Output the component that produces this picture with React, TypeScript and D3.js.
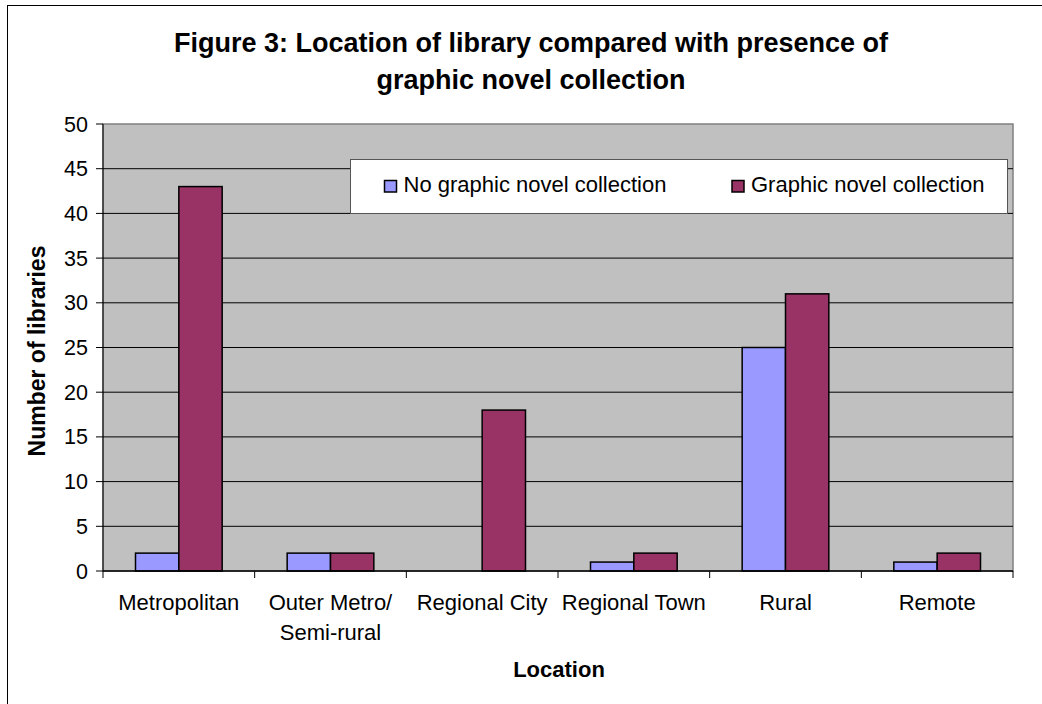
import React from "react";
import * as d3 from "d3";

const categories = ["Metropolitan", "Outer Metro/\nSemi-rural", "Regional City", "Regional Town", "Rural", "Remote"];
const seriesNames = ["No graphic novel collection", "Graphic novel collection"];
const noCollection = [2, 2, 0, 1, 25, 1];
const withCollection = [43, 2, 18, 2, 31, 2];
const yTicks = [0, 5, 10, 15, 20, 25, 30, 35, 40, 45, 50];
const colors = ["#9999FF", "#993366"];

const W = 1042;
const H = 704;
const plot = { left: 103, top: 124, right: 1013, bottom: 571 };
const font = "Arial, 'Liberation Sans', sans-serif";

export default function App() {
  const x = d3.scaleBand<string>().domain(categories).range([plot.left, plot.right]).paddingInner(0).paddingOuter(0);
  const y = d3.scaleLinear().domain([0, 50]).range([plot.bottom, plot.top]);
  const bw = x.bandwidth();
  const inner = d3.scaleBand<number>().domain([0, 1]).range([0, bw]).paddingInner(0).paddingOuter(0.75);
  const series = [noCollection, withCollection];

  return (
    <div style={{ position: "fixed", left: 0, top: 0 }}>
      <svg width={W} height={H} style={{ display: "block", fontFamily: font }}>
        <rect x={0} y={0} width={W} height={H} fill="#fff" />
        <rect x={7.5} y={5.5} width={W + 20} height={H + 20} fill="none" stroke="#000" strokeWidth={1} />
        <text x={531} y={52} textAnchor="middle" fontWeight="bold" fontSize={27} fill="#000">
          Figure 3: Location of library compared with presence of
        </text>
        <text x={531} y={89} textAnchor="middle" fontWeight="bold" fontSize={27} fill="#000">
          graphic novel collection
        </text>
        <rect x={plot.left} y={plot.top} width={plot.right - plot.left} height={plot.bottom - plot.top} fill="#C0C0C0" stroke="#808080" strokeWidth={1.5} />
        {yTicks.filter((t) => t > 0 && t < 50).map((t) => (
          <line key={"g" + t} x1={plot.left} x2={plot.right} y1={y(t)} y2={y(t)} stroke="#000" strokeWidth={1} />
        ))}
        {/* y axis */}
        <line x1={plot.left} x2={plot.left} y1={plot.top} y2={plot.bottom} stroke="#000" strokeWidth={1} />
        {yTicks.map((t) => (
          <g key={"y" + t}>
            <line x1={plot.left - 7} x2={plot.left} y1={y(t)} y2={y(t)} stroke="#000" />
            <text x={88} y={y(t) + 7.5} textAnchor="end" fontSize={21.5} fill="#000">{t}</text>
          </g>
        ))}
        {/* bars */}
        {categories.map((c, i) =>
          series.map((s, j) => {
            const v = s[i];
            if (v <= 0) return null;
            const bx = (x(c) as number) + (inner(j) as number);
            return (
              <rect key={c + j} x={bx} y={y(v)} width={inner.bandwidth()} height={y(0) - y(v)} fill={colors[j]} stroke="#000" strokeWidth={1.5} />
            );
          })
        )}
        {/* x axis */}
        <line x1={plot.left} x2={plot.right} y1={plot.bottom} y2={plot.bottom} stroke="#000" strokeWidth={1.5} />
        {categories.map((c, i) => (
          <line key={"xt" + i} x1={x(c) as number} x2={x(c) as number} y1={plot.bottom} y2={plot.bottom + 7} stroke="#000" />
        ))}
        <line x1={plot.right} x2={plot.right} y1={plot.bottom} y2={plot.bottom + 7} stroke="#000" />
        {categories.map((c) => {
          const lines = c.split("\n");
          const cx = (x(c) as number) + bw / 2;
          return (
            <text key={"xl" + c} x={cx} y={610} textAnchor="middle" fontSize={22} fill="#000">
              {lines.map((l, k) => (
                <tspan key={k} x={cx} dy={k === 0 ? 0 : 30}>{l}</tspan>
              ))}
            </text>
          );
        })}
        <text x={559} y={677} textAnchor="middle" fontWeight="bold" fontSize={22} fill="#000">Location</text>
        <text transform={`translate(45,351) rotate(-90)`} textAnchor="middle" fontWeight="bold" fontSize={23} fill="#000">Number of libraries</text>
        {/* legend */}
        <rect x={350.5} y={159.5} width={657} height={54} fill="#fff" stroke="#555" strokeWidth={1} />
        {seriesNames.map((n, j) => {
          const lx = j === 0 ? 384.5 : 732;
          return (
            <g key={n}>
              <rect x={lx} y={180.5} width={12} height={11.5} fill={colors[j]} stroke="#000" strokeWidth={1.5} />
              <text x={lx + 19} y={192} fontSize={22} fill="#000">{n}</text>
            </g>
          );
        })}
      </svg>
    </div>
  );
}
